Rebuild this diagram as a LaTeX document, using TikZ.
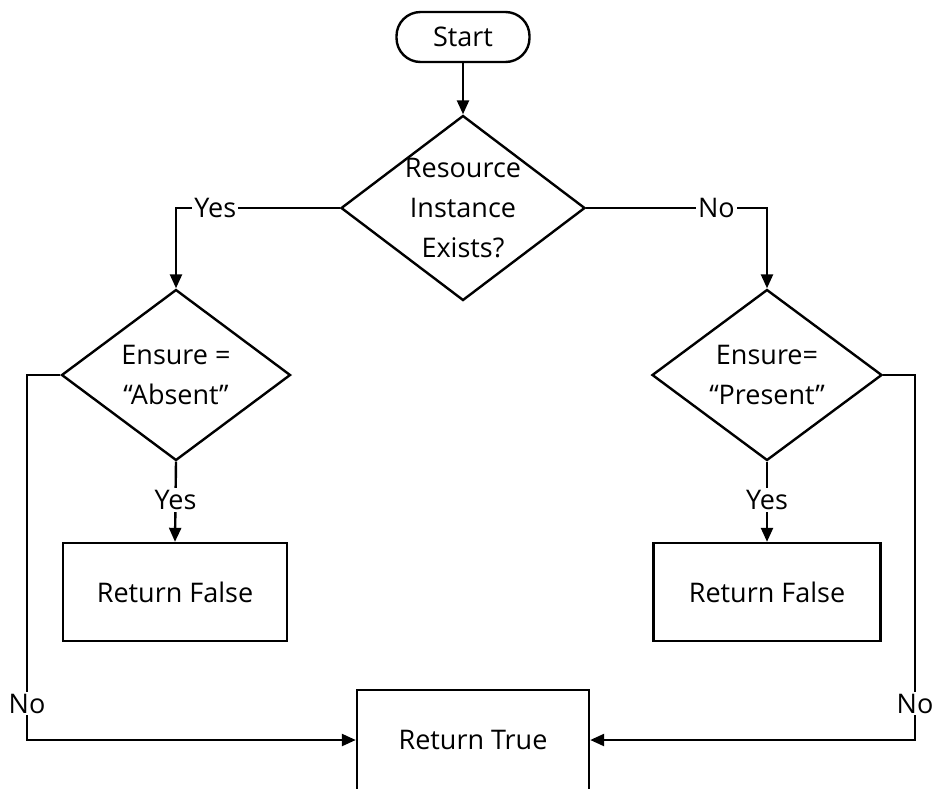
\documentclass[tikz,border=0pt]{standalone}
\usepackage{fontspec}
\setmainfont{Open Sans}
\usetikzlibrary{shapes.geometric,arrows.meta}
\begin{document}
\begin{tikzpicture}[x=1pt,y=-1pt,
  every node/.style={font=\fontsize{27}{40}\selectfont, text=black},
  base/.style={draw=black, line width=2.4pt},
  dia/.style={base, diamond, inner sep=0pt},
  box/.style={base, rectangle, inner sep=0pt},
  txt/.style={align=center, inner sep=0pt},
  lab/.style={fill=white, inner sep=2pt},
  con/.style={line width=2.4pt, draw=black},
  arr/.style={con, -{Triangle[length=14pt,width=12pt]}}
]
\useasboundingbox (0,0) rectangle (933,788);
\fill[white] (0,0) rectangle (933,788);
% nodes
\node[base, rectangle, rounded corners=24pt, minimum width=133pt, minimum height=50pt] (start) at (463,37) {Start};
\node[dia, minimum width=244pt, minimum height=185pt,
  label={[txt]center:Resource\\Instance\\Exists?}] (d0) at (463,208) {};
\node[dia, minimum width=229pt, minimum height=171pt,
  label={[txt]center:Ensure =\\\char"201C Absent\char"201D}] (d1) at (176,375) {};
\node[dia, minimum width=230pt, minimum height=171pt,
  label={[txt]center:Ensure=\\\char"201C Present\char"201D}] (d2) at (767,375) {};
\node[box, minimum width=224pt, minimum height=98pt] (r1) at (175,592) {Return False};
\node[box, minimum width=227pt, minimum height=98pt] (r2) at (767,592) {Return False};
\node[box, minimum width=232pt, minimum height=100pt] (rt) at (473,740) {Return True};
\coordinate (lc) at (27,375);
\coordinate (rc) at (915,375);
% connectors
\draw[arr] (start) -- (d0);
\draw[arr] (d0.west) -| node[lab, pos=0.38] {Yes} (d1.north);
\draw[arr] (d0.east) -| node[lab, pos=0.36] {No} (d2.north);
\draw[arr] (d1.south) -- node[lab, pos=0.48] {Yes} (r1.north);
\draw[arr] (d2.south) -- node[lab, pos=0.48] {Yes} (r2.north);
\draw[arr] (d1.west) -- (lc) |- node[lab, pos=0.45] {No} (rt.west);
\draw[arr] (d2.east) -- (rc) |- node[lab, pos=0.45] {No} (rt.east);
\end{tikzpicture}
\end{document}
